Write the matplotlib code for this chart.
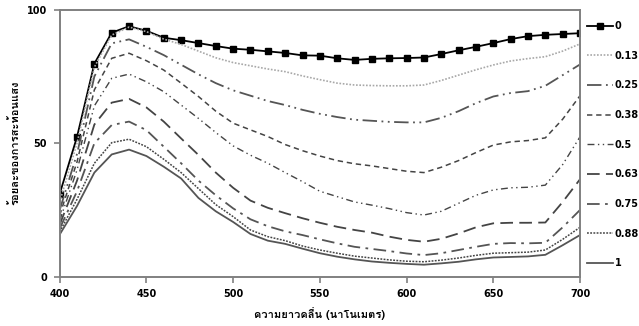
import matplotlib
matplotlib.use("Agg")
import matplotlib.pyplot as plt
from matplotlib import font_manager
from matplotlib.ft2font import FT2Font

wavelength = list(range(400, 701, 10))

s0 = [31.0, 52.4, 79.8, 91.4, 93.8, 92.1, 89.5, 88.6, 87.5, 86.4, 85.4, 85.0, 84.4, 83.8, 82.9, 82.8,
      81.8, 81.2, 81.6, 81.8, 81.9, 82.1, 83.4, 84.8, 86.1, 87.5, 89.0, 90.1, 90.6, 90.9, 91.2]
s013 = [28.0, 50.0, 78.5, 90.5, 93.5, 91.8, 89.0, 87.0, 84.5, 82.0, 80.2, 79.0, 77.8, 76.8, 75.2, 73.8,
        72.5, 71.8, 71.6, 71.5, 71.5, 71.8, 73.5, 75.5, 77.5, 79.3, 80.8, 81.7, 82.4, 84.5, 87.2]
s025 = [25.0, 46.0, 75.0, 87.4, 88.9, 86.1, 83.0, 79.4, 75.8, 72.5, 69.8, 67.8, 65.8, 64.3, 62.5, 61.0,
        59.8, 58.8, 58.4, 58.0, 57.8, 57.8, 59.5, 62.0, 65.0, 67.5, 68.8, 69.5, 71.5, 75.5, 79.5]
s038 = [23.0, 43.0, 70.0, 81.8, 83.7, 80.9, 77.4, 72.5, 67.5, 62.0, 57.5, 55.0, 52.5, 49.5, 47.2, 45.2,
        43.5, 42.3, 41.5, 40.5, 39.5, 39.0, 41.0, 43.5, 46.5, 49.3, 50.5, 51.0, 52.0, 59.0, 67.8]
s05 = [21.0, 40.0, 64.0, 74.3, 75.9, 73.0, 69.3, 64.3, 59.3, 54.0, 49.0, 45.5, 42.5, 39.0, 35.6, 32.0,
       30.0, 28.0, 26.8, 25.5, 24.0, 23.1, 24.5, 27.5, 30.5, 32.5, 33.3, 33.5, 34.3, 42.0, 52.4]
s063 = [19.5, 36.0, 57.0, 65.2, 66.6, 63.4, 58.1, 51.8, 45.6, 39.0, 33.3, 28.5, 25.8, 23.8, 21.9, 20.2,
        18.7, 17.5, 16.5, 15.0, 13.8, 13.1, 14.2, 16.2, 18.5, 20.0, 20.2, 20.2, 20.3, 28.0, 36.5]
s075 = [18.0, 32.0, 50.0, 56.8, 58.1, 54.9, 48.7, 42.5, 36.0, 30.5, 25.6, 21.5, 18.9, 17.0, 15.6, 14.0,
        12.5, 11.2, 10.4, 9.6, 8.7, 8.1, 8.8, 10.0, 11.2, 12.3, 12.6, 12.5, 12.7, 18.5, 25.0]
s088 = [16.8, 29.0, 42.5, 50.2, 51.5, 48.7, 44.0, 39.0, 33.0, 27.0, 22.5, 17.5, 15.0, 13.5, 11.5, 10.0,
        8.8, 7.7, 7.0, 6.3, 5.8, 5.6, 6.2, 7.0, 8.0, 8.8, 9.0, 9.2, 10.0, 14.0, 18.5]
s1 = [15.8, 26.5, 39.0, 45.8, 47.6, 45.2, 41.2, 36.8, 29.5, 24.5, 20.5, 16.0, 13.5, 12.3, 10.5, 8.8,
      7.5, 6.5, 5.7, 5.2, 4.8, 4.5, 5.0, 5.6, 6.5, 7.2, 7.4, 7.6, 8.2, 11.8, 15.6]

labels = ["0", "0.13", "0.25", "0.38", "0.5", "0.63", "0.75", "0.88", "1"]
series = [s0, s013, s025, s038, s05, s063, s075, s088, s1]

xlabel = "ความยาวคลื่น (นาโนเมตร)"
ylabel = "ร้อยละของการสะท้อนแสง"
xticks = [400, 450, 500, 550, 600, 650, 700]
yticks = [0, 50, 100]

# find a font with Thai glyphs
thai_family = None
for fe in font_manager.fontManager.ttflist:
    try:
        f = FT2Font(fe.fname)
        cmap = f.get_charmap()
        if 0x0E04 in cmap and 0x0E27 in cmap:
            thai_family = fe.name
            break
    except Exception:
        continue
fams = ([thai_family] if thai_family else []) + ["DejaVu Sans"]

styles = [
    dict(color="black", lw=1.3, ls="-", marker="s", ms=4.2, mfc="black", mec="black"),
    dict(color="#a8a8a8", lw=1.2, ls=(0, (1, 1))),
    dict(color="#555555", lw=1.3, ls=(0, (8, 2.5, 1, 2.5, 1, 2.5))),
    dict(color="#444444", lw=1.1, ls=(0, (3.5, 2.5))),
    dict(color="#444444", lw=1.0, ls=(0, (5, 2.5, 1, 2.5, 1, 2.5))),
    dict(color="#444444", lw=1.3, ls=(0, (7, 3.5))),
    dict(color="#555555", lw=1.3, ls=(0, (7, 3, 1.5, 3))),
    dict(color="#444444", lw=1.1, ls=(0, (1.2, 0.9))),
    dict(color="#555555", lw=1.3, ls="-"),
]

fig = plt.figure(figsize=(6.39, 3.26), dpi=100)
ax = fig.add_axes([0.0934, 0.1512, 0.8143, 0.8190])

for lab, ys, st in zip(labels, series, styles):
    ax.plot(wavelength, ys, label=lab, **st)

ax.set_xlim(400, 700)
ax.set_ylim(0, 100)
ax.set_xticks(xticks)
ax.set_yticks(yticks)
for sp in ax.spines.values():
    sp.set_color("#808080")
    sp.set_linewidth(1.4)
ax.tick_params(axis="both", direction="out", length=4, width=1.2, color="#808080",
               labelsize=7, pad=5)
for t in ax.get_xticklabels() + ax.get_yticklabels():
    t.set_fontweight("bold")
    t.set_fontfamily("DejaVu Sans")

ax.set_xlabel(xlabel, family=fams, fontsize=8, fontweight="bold", labelpad=6)
ax.set_ylabel(ylabel, family=fams, fontsize=8, fontweight="bold", labelpad=4)

leg = ax.legend(loc="upper left", bbox_to_anchor=(1.005, 0.972), frameon=False,
                handlelength=2.7, handletextpad=0.2, labelspacing=2.02,
                prop=dict(family="DejaVu Sans", size=7, weight="bold"), borderaxespad=0)

fig.savefig("out.png", dpi=100)
